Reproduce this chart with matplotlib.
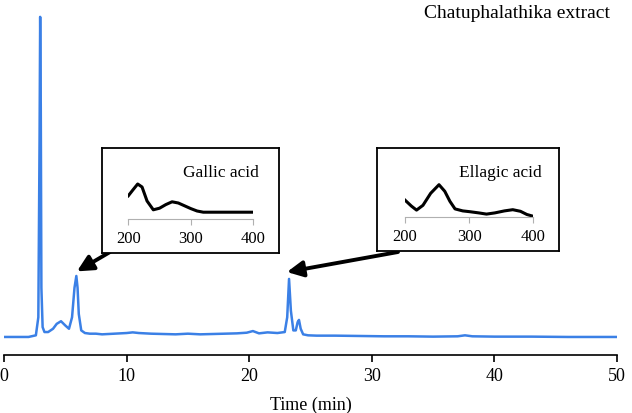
import matplotlib
matplotlib.use("Agg")
import matplotlib.pyplot as plt

plt.rcParams['font.family'] = ['Liberation Serif', 'DejaVu Serif']

# chromatogram (time in min, relative absorbance)
time_min = [0, 1, 2, 2.6, 2.8, 2.9, 2.95, 3.0, 3.05, 3.15, 3.3, 3.6, 4.0, 4.3, 4.65,
            5.0, 5.3, 5.55, 5.75, 5.9, 6.0, 6.1, 6.3, 6.6, 7.0, 7.5, 8, 9, 10, 10.5,
            11, 12, 13, 14, 15, 16, 17, 18, 19, 19.8, 20.3, 20.8, 21.5, 22.3, 22.9,
            23.1, 23.25, 23.4, 23.6, 23.8, 23.95, 24.06, 24.2, 24.4, 24.8, 25.5, 27,
            29, 31, 33, 35, 37, 37.6, 38.2, 40, 43, 46, 50]
signal = [0, 0, 0, 0.005, 0.06, 0.6, 0.976, 0.7, 0.15, 0.03, 0.015, 0.015, 0.025,
          0.04, 0.048, 0.035, 0.025, 0.06, 0.15, 0.186, 0.15, 0.07, 0.02, 0.012,
          0.01, 0.01, 0.008, 0.01, 0.012, 0.014, 0.012, 0.01, 0.009, 0.008, 0.01,
          0.008, 0.009, 0.01, 0.011, 0.013, 0.018, 0.011, 0.014, 0.012, 0.015, 0.06,
          0.177, 0.08, 0.02, 0.02, 0.045, 0.052, 0.025, 0.008, 0.005, 0.004, 0.004,
          0.003, 0.002, 0.002, 0.001, 0.002, 0.005, 0.002, 0.001, 0.001, 0, 0]
x_ticks = [0, 10, 20, 30, 40, 50]

# UV spectra (nm, relative)
gallic_nm = [200, 207, 215, 222, 230, 240, 250, 260, 270, 280, 290, 300, 310, 320, 340, 360, 380, 400]
gallic_abs = [0.58, 0.72, 0.875, 0.8, 0.45, 0.23, 0.27, 0.36, 0.43, 0.40, 0.33, 0.26, 0.2,
              0.17, 0.17, 0.17, 0.17, 0.17]
ellagic_nm = [200, 210, 218, 228, 240, 253, 262, 270, 278, 290, 301, 315, 327, 340, 355,
              368, 380, 390, 400]
ellagic_abs = [0.43, 0.28, 0.18, 0.3, 0.6, 0.815, 0.65, 0.4, 0.21, 0.16, 0.14, 0.11, 0.08,
               0.11, 0.16, 0.19, 0.15, 0.07, 0.025]
uv_ticks = [200, 300, 400]

fig = plt.figure(figsize=(6.32, 4.14), dpi=100)
ax = fig.add_axes([4 / 632, 58 / 414, 613 / 632, 346 / 414])
ax.plot(time_min, signal, color='#3b80e6', lw=1.8)
ax.set_xlim(0, 50)
ax.set_ylim(-0.055, 1.0)
ax.set_xticks(x_ticks)
ax.tick_params(axis='x', direction='out', length=5, width=1.2, labelsize=13, pad=4)
ax.set_yticks([])
for s in ['left', 'right', 'top']:
    ax.spines[s].set_visible(False)
ax.spines['bottom'].set_linewidth(1.2)
ax.set_xlabel('Time (min)', fontsize=13, labelpad=8)

fig.text(610 / 632, 401 / 414, 'Chatuphalathika extract', ha='right', va='center', fontsize=14)

# arrows from the insets to the peaks
arrow = dict(arrowstyle='-|>', lw=2.8, color='black', mutation_scale=24, shrinkA=0, shrinkB=0)
ax.annotate('', xy=(5.95, 0.2), xytext=(110 / 632, 161 / 414),
            textcoords='figure fraction', arrowprops=arrow, annotation_clip=False)
ax.annotate('', xy=(23.08, 0.198), xytext=(398 / 632, 161 / 414),
            textcoords='figure fraction', arrowprops=arrow, annotation_clip=False)


def inset(box, inner, nm, vals, name, name_xy):
    b = fig.add_axes(box)
    b.set_xticks([])
    b.set_yticks([])
    for s in b.spines.values():
        s.set_linewidth(1.3)
    b.text(name_xy[0], name_xy[1], name, transform=b.transAxes, ha='center', va='center',
           fontsize=12.5)
    a = fig.add_axes(inner)
    a.patch.set_visible(False)
    a.plot(nm, vals, color='black', lw=2.2)
    a.set_xlim(200, 400)
    a.set_ylim(0, 1)
    a.set_xticks(uv_ticks)
    a.set_yticks([])
    for s in ['left', 'right', 'top']:
        a.spines[s].set_visible(False)
    a.spines['bottom'].set_color('#b0b0b0')
    a.tick_params(axis='x', colors='#b0b0b0', labelcolor='black', length=4, labelsize=12, pad=4)


inset([102 / 632, 160 / 414, 177 / 632, 105 / 414],
      [128.3 / 632, 194 / 414, 125 / 632, 40 / 414],
      gallic_nm, gallic_abs, 'Gallic acid', (0.672, 0.771))
inset([377 / 632, 162 / 414, 182 / 632, 103 / 414],
      [405 / 632, 195.7 / 414, 128.3 / 632, 40 / 414],
      ellagic_nm, ellagic_abs, 'Ellagic acid', (0.676, 0.767))

fig.savefig('out.png', dpi=100)
